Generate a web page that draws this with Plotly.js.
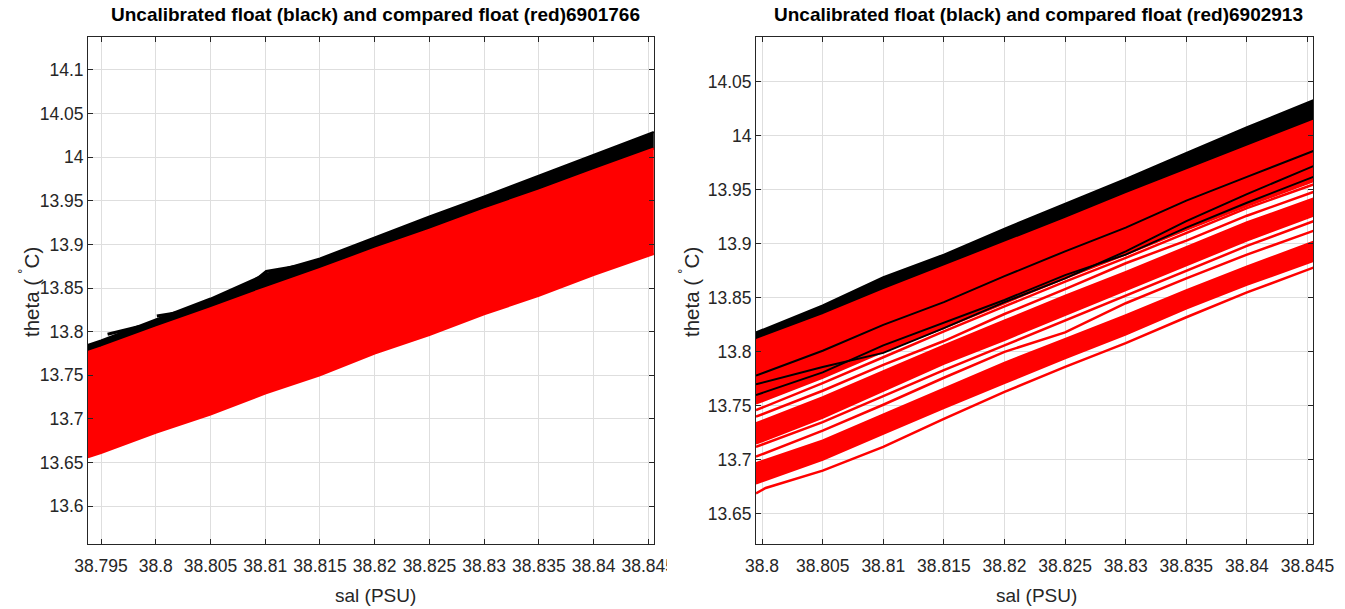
<!DOCTYPE html>
<html>
<head>
<meta charset="utf-8">
<script src="https://cdn.plot.ly/plotly-3.0.1.min.js"></script>
<style>html,body{margin:0;padding:0;background:#fff;}#chart{width:1345px;height:609px;}</style>
</head>
<body>
<div id="chart"></div>
<script>
// ---------- Left panel: float 6901766 ----------
const leftSal        = [38.7938, 38.795, 38.800, 38.805, 38.810, 38.815, 38.820, 38.825, 38.830, 38.835, 38.840, 38.8455];
const leftBlackTop   = [13.785, 13.790, 13.814, 13.838, 13.866, 13.884, 13.908, 13.932, 13.955, 13.979, 14.003, 14.029];
const leftRedTop     = [13.777, 13.782, 13.805, 13.827, 13.850, 13.872, 13.895, 13.917, 13.940, 13.962, 13.985, 14.010];
const leftRedBottom  = [13.656, 13.661, 13.684, 13.705, 13.729, 13.750, 13.775, 13.796, 13.820, 13.841, 13.865, 13.889];
const leftStray1Sal  = [38.7956, 38.7985];
const leftStray1Th   = [13.797, 13.806];
const leftStray2Sal  = [38.8001, 38.8031];
const leftStray2Th   = [13.818, 13.824];
const leftStray3Sal  = [38.8092, 38.8101, 38.8129];
const leftStray3Th   = [13.860, 13.869, 13.875];

// ---------- Right panel: float 6902913 ----------
const rightSal        = [38.7995, 38.805, 38.810, 38.815, 38.820, 38.825, 38.830, 38.835, 38.840, 38.8455];
const rightBlackTop   = [13.818, 13.843, 13.869, 13.890, 13.914, 13.937, 13.960, 13.984, 14.008, 14.033];
const rightRedTop     = [13.811, 13.834, 13.857, 13.879, 13.901, 13.923, 13.946, 13.968, 13.990, 14.014];
const rightRedMainLo  = [13.752, 13.776, 13.800, 13.822, 13.845, 13.868, 13.890, 13.913, 13.935, 13.958];
const rightBlackLine1 = [13.770, 13.786, 13.799, 13.822, 13.846, 13.868, 13.893, 13.921, 13.946, 13.972];
const rightBlackLine2 = [13.760, 13.781, 13.806, 13.827, 13.848, 13.871, 13.890, 13.915, 13.938, 13.962];
const rightBlackLine3 = [13.778, 13.801, 13.825, 13.846, 13.870, 13.893, 13.915, 13.940, 13.962, 13.986];
const rightRedL1  = [13.746, 13.771, 13.795, 13.819, 13.842, 13.865, 13.887, 13.910, 13.933, 13.955];
const rightRedL2  = [13.740, 13.764, 13.788, 13.810, 13.835, 13.858, 13.882, 13.903, 13.926, 13.948];
const rightRedL3  = [13.734, 13.758, 13.782, 13.806, 13.829, 13.852, 13.874, 13.897, 13.920, 13.942];
const rightRedL5  = [13.715, 13.739, 13.764, 13.789, 13.811, 13.834, 13.857, 13.880, 13.903, 13.926];
const rightRedL6  = [13.712, 13.735, 13.759, 13.783, 13.806, 13.829, 13.852, 13.875, 13.898, 13.921];
const rightRedL7  = [13.703, 13.727, 13.751, 13.776, 13.800, 13.818, 13.845, 13.868, 13.890, 13.912];
const rightRedL9  = [13.697, 13.718, 13.742, 13.766, 13.790, 13.812, 13.834, 13.857, 13.879, 13.902];
const rightRedL10 = [13.678, 13.700, 13.724, 13.748, 13.771, 13.794, 13.816, 13.840, 13.862, 13.884];
const rightRedL11Sal = [38.7995, 38.8003, 38.805, 38.810, 38.815, 38.820, 38.825, 38.830, 38.835, 38.840, 38.8455];
const rightRedL11    = [13.669, 13.674, 13.690, 13.712, 13.738, 13.763, 13.786, 13.808, 13.832, 13.855, 13.878];

// ---------- Tick labels ----------
const leftXTicks  = [38.795, 38.8, 38.805, 38.81, 38.815, 38.82, 38.825, 38.83, 38.835, 38.84, 38.845];
const leftXText   = ['38.795','38.8','38.805','38.81','38.815','38.82','38.825','38.83','38.835','38.84','38.845'];
const leftYTicks  = [13.6, 13.65, 13.7, 13.75, 13.8, 13.85, 13.9, 13.95, 14, 14.05, 14.1];
const leftYText   = ['13.6','13.65','13.7','13.75','13.8','13.85','13.9','13.95','14','14.05','14.1'];
const rightXTicks = [38.8, 38.805, 38.81, 38.815, 38.82, 38.825, 38.83, 38.835, 38.84, 38.845];
const rightXText  = ['38.8','38.805','38.81','38.815','38.82','38.825','38.83','38.835','38.84','38.845'];
const rightYTicks = [13.65, 13.7, 13.75, 13.8, 13.85, 13.9, 13.95, 14, 14.05];
const rightYText  = ['13.65','13.7','13.75','13.8','13.85','13.9','13.95','14','14.05'];

const titleLeft  = 'Uncalibrated float (black) and compared float (red)6901766';
const titleRight = 'Uncalibrated float (black) and compared float (red)6902913';
const xLabel = 'sal (PSU)';
const yLabel = 'theta ( <sup>˚</sup>C)';

const RED = '#ff0000', BLACK = '#000000';
function line(x, y, color, w, ax) {
  return {x: x, y: y, type: 'scatter', mode: 'lines', line: {color: color, width: w},
          xaxis: ax[0], yaxis: ax[1], hoverinfo: 'skip', showlegend: false};
}
function band(x, lo, hi, color, ax) {
  return [
    {x: x, y: lo, type: 'scatter', mode: 'lines', line: {color: color, width: 2}, xaxis: ax[0], yaxis: ax[1], showlegend: false, hoverinfo: 'skip'},
    {x: x, y: hi, type: 'scatter', mode: 'lines', line: {color: color, width: 2}, fill: 'tonexty', fillcolor: color, xaxis: ax[0], yaxis: ax[1], showlegend: false, hoverinfo: 'skip'}
  ];
}
const L = ['x', 'y'], R = ['x2', 'y2'];
const traces = [];
// left
traces.push(...band(leftSal, leftRedTop, leftBlackTop, BLACK, L));
traces.push(...band(leftSal, leftRedBottom, leftRedTop, RED, L));
traces.push(line(leftStray1Sal, leftStray1Th, BLACK, 3, L));
traces.push(line(leftStray2Sal, leftStray2Th, BLACK, 3, L));
traces.push(line(leftStray3Sal, leftStray3Th, BLACK, 3, L));
// right
traces.push(...band(rightSal, rightRedTop, rightBlackTop, BLACK, R));
traces.push(...band(rightSal, rightRedMainLo, rightRedTop, RED, R));
[rightBlackLine1, rightBlackLine2, rightBlackLine3].forEach(a => traces.push(line(rightSal, a, BLACK, 2, R)));
traces.push(...band(rightSal, rightRedL5, rightRedL3, RED, R));
traces.push(...band(rightSal, rightRedL10, rightRedL9, RED, R));
[rightRedL1, rightRedL2, rightRedL6, rightRedL7].forEach(a => traces.push(line(rightSal, a, RED, 2.5, R)));
traces.push(line(rightRedL11Sal, rightRedL11, RED, 2.5, R));

const FONT = 'Liberation Sans, Arial, sans-serif';
const axBase = {
  showgrid: true, gridcolor: '#dedede', gridwidth: 1, zeroline: false,
  showline: true, linecolor: '#262626', linewidth: 1, mirror: 'ticks',
  ticks: 'inside', ticklen: 5, tickcolor: '#262626', tickmode: 'array',
  tickfont: {family: FONT, size: 17.5, color: '#262626'}, fixedrange: true
};
const yDom = [1 - 543.5/609, 1 - 37/609];
const layout = {
  width: 1345, height: 609, margin: {l: 0, r: 0, t: 0, b: 0},
  paper_bgcolor: '#ffffff', plot_bgcolor: '#ffffff', showlegend: false,
  xaxis:  Object.assign({}, axBase, {domain: [88/1345, 654/1345], range: [38.79381, 38.84552], tickvals: leftXTicks, ticktext: leftXText, anchor: 'y', ticklabelstandoff: 6}),
  yaxis:  Object.assign({}, axBase, {domain: yDom, range: [13.5572, 14.1378], tickvals: leftYTicks, ticktext: leftYText, anchor: 'x'}),
  xaxis2: Object.assign({}, axBase, {domain: [756/1345, 1313/1345], range: [38.7995, 38.84545], tickvals: rightXTicks, ticktext: rightXText, anchor: 'y2', ticklabelstandoff: 6}),
  yaxis2: Object.assign({}, axBase, {domain: yDom, range: [13.6226, 14.0914], tickvals: rightYTicks, ticktext: rightYText, anchor: 'x2'}),
  shapes: [
    {type: 'rect', xref: 'paper', yref: 'paper', x0: 667/1345, x1: 700/1345, y0: 1 - 578/609, y1: 1 - 550/609, fillcolor: '#ffffff', line: {width: 0}, layer: 'above'}
  ],
  annotations: [
    {text: '<b>' + titleLeft + '</b>', xref: 'paper', yref: 'paper', x: 376/1345, y: 1 - 15/609, xanchor: 'center', yanchor: 'middle', showarrow: false, font: {family: FONT, size: 19, color: '#000'}},
    {text: '<b>' + titleRight + '</b>', xref: 'paper', yref: 'paper', x: 1038/1345, y: 1 - 15/609, xanchor: 'center', yanchor: 'middle', showarrow: false, font: {family: FONT, size: 19, color: '#000'}},
    {text: xLabel, xref: 'paper', yref: 'paper', x: 376/1345, y: 1 - 595/609, xanchor: 'center', yanchor: 'middle', showarrow: false, font: {family: FONT, size: 19, color: '#262626'}},
    {text: xLabel, xref: 'paper', yref: 'paper', x: 1036/1345, y: 1 - 595/609, xanchor: 'center', yanchor: 'middle', showarrow: false, font: {family: FONT, size: 19, color: '#262626'}},
    {text: yLabel, xref: 'paper', yref: 'paper', x: 30/1345, y: 1 - 292/609, xanchor: 'center', yanchor: 'middle', textangle: -90, showarrow: false, font: {family: FONT, size: 20.5, color: '#262626'}},
    {text: yLabel, xref: 'paper', yref: 'paper', x: 690/1345, y: 1 - 292/609, xanchor: 'center', yanchor: 'middle', textangle: -90, showarrow: false, font: {family: FONT, size: 20.5, color: '#262626'}}
  ]
};
Plotly.newPlot('chart', traces, layout, {staticPlot: true, displayModeBar: false});
</script>
</body>
</html>
